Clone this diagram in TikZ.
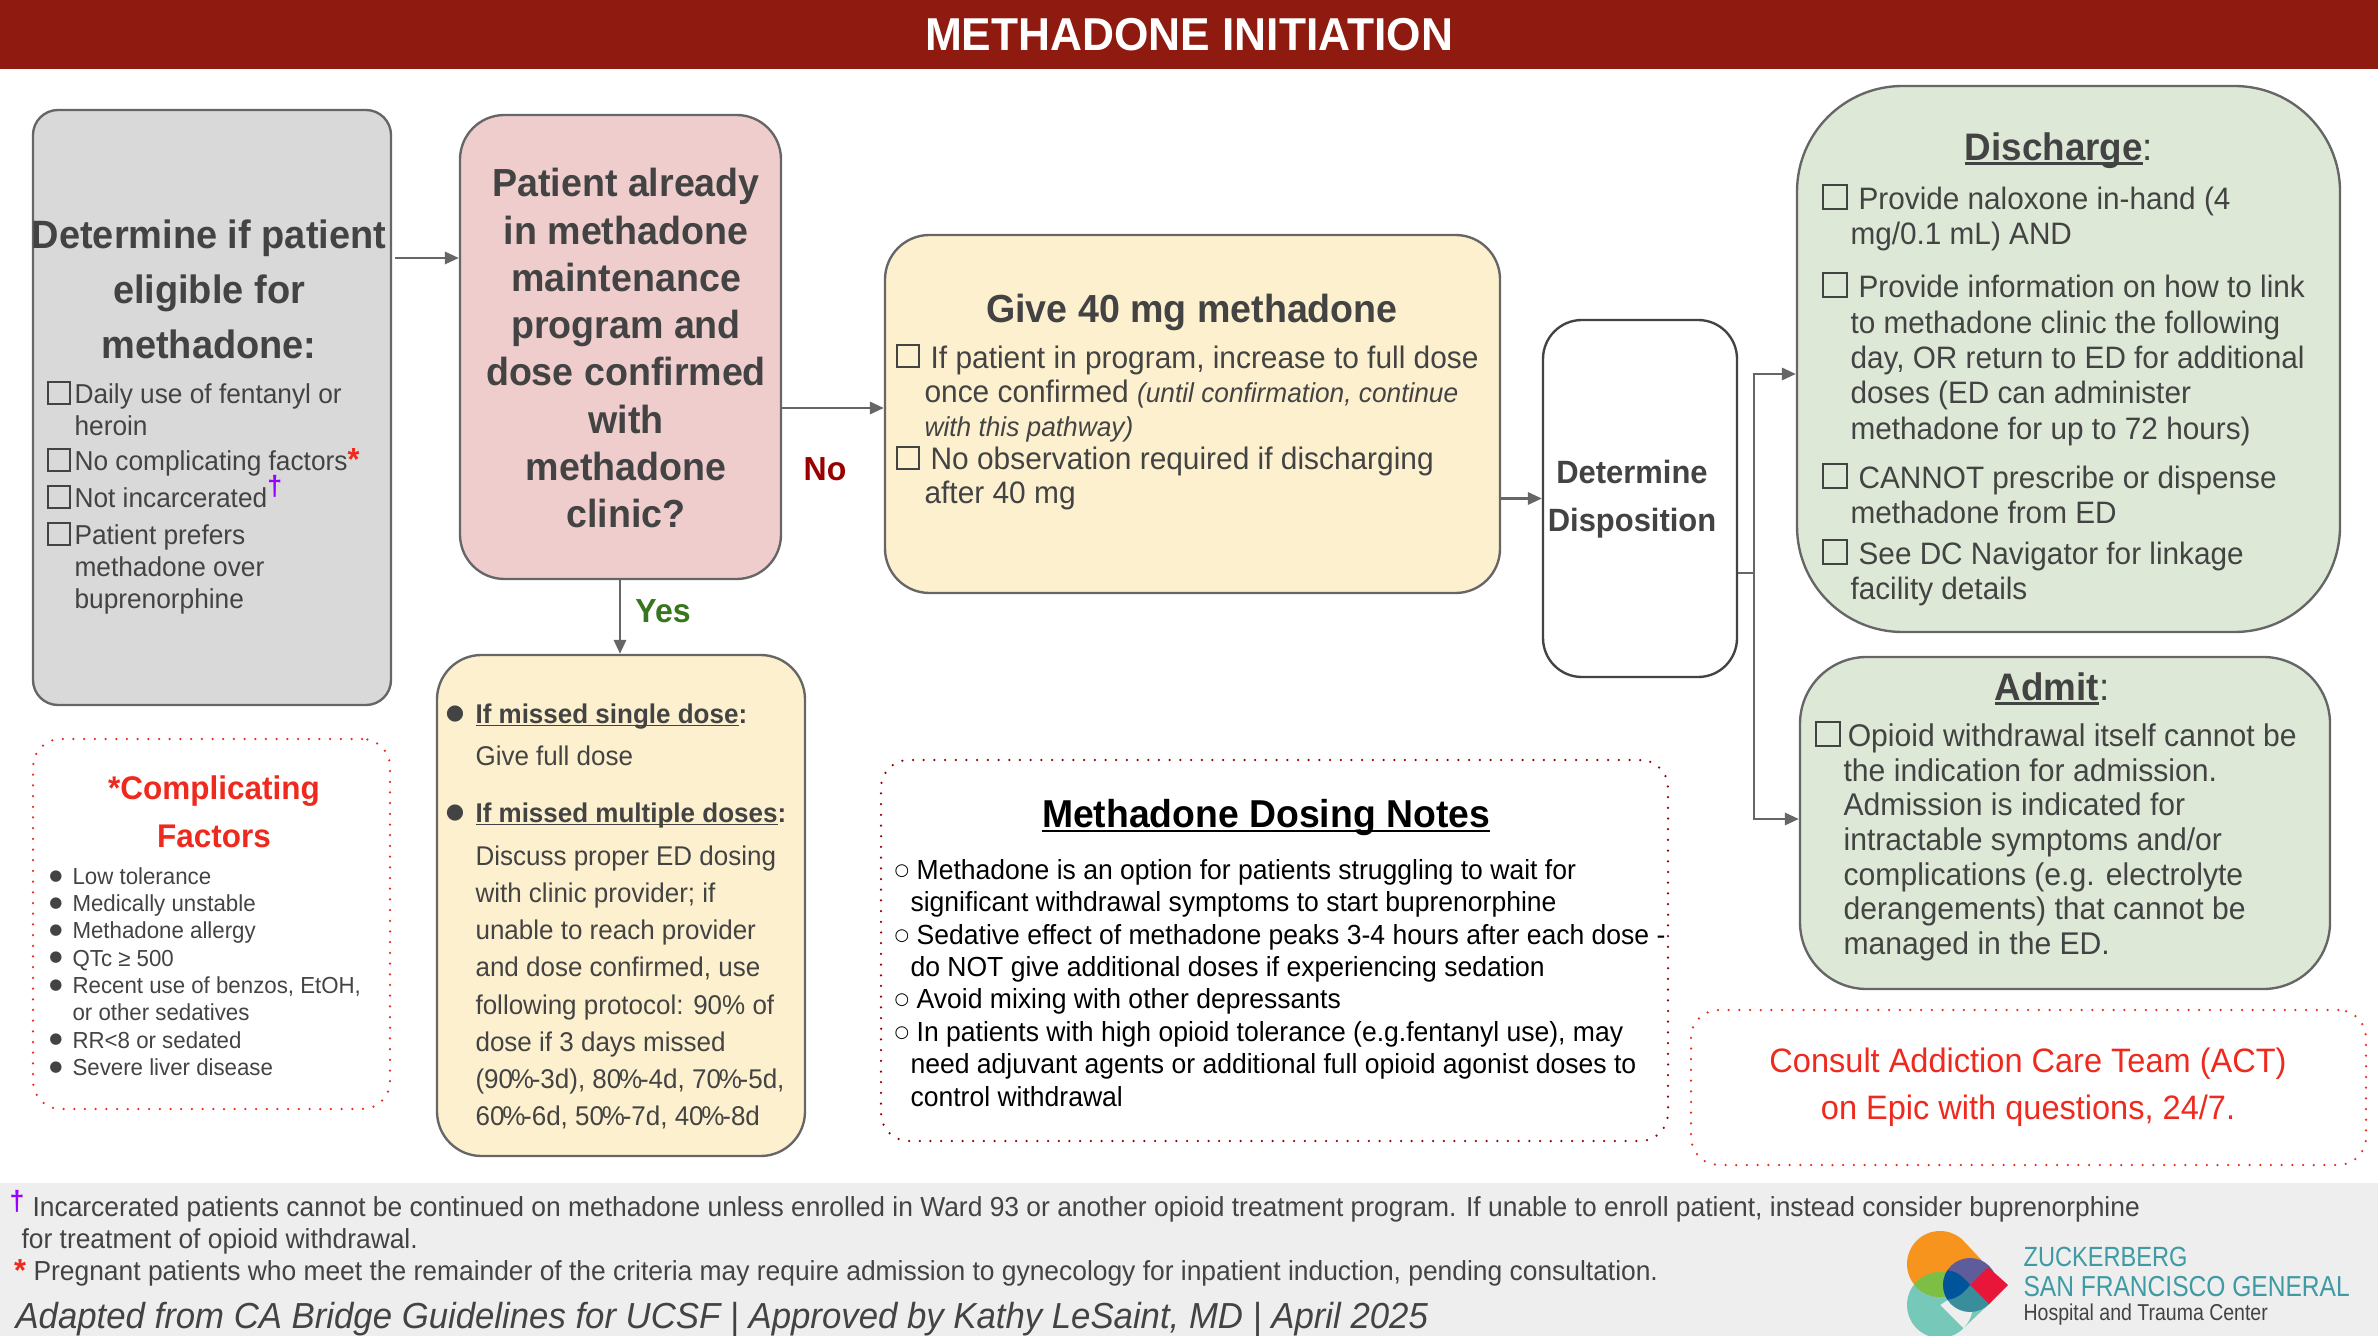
\documentclass[tikz,border=0pt]{standalone}
\usepackage{fontspec}
\setmainfont[FakeStretch=0.96]{Liberation Sans}
\newfontfamily\symfont{DejaVu Sans}
\newfontfamily\logofont[FakeStretch=0.85]{Liberation Sans}
\usetikzlibrary{arrows.meta, positioning}

\definecolor{headred}{HTML}{8E1A10}
\definecolor{txtdark}{HTML}{434343}
\definecolor{edgegray}{HTML}{666666}
\definecolor{boxgray}{HTML}{D9D9D9}
\definecolor{boxpink}{HTML}{EFCDCD}
\definecolor{boxyellow}{HTML}{FCF0CE}
\definecolor{boxgreen}{HTML}{DDE8D6}
\definecolor{footgray}{HTML}{EEEEEE}
\definecolor{noteRed}{HTML}{EE2A1E}
\definecolor{darkRed}{HTML}{990000}
\definecolor{markPurple}{HTML}{9900FF}
\definecolor{yesGreen}{HTML}{38761D}
\definecolor{logoTeal}{HTML}{3E9AA3}
\definecolor{logoOrange}{HTML}{F6941E}
\definecolor{logoMint}{HTML}{76C9B9}
\definecolor{logoGreen}{HTML}{7DBF45}
\definecolor{logoPurple}{HTML}{5F5C9B}
\definecolor{logoDeep}{HTML}{3A8E9C}
\definecolor{logoBlue}{HTML}{00559A}
\definecolor{logoRed}{HTML}{E8173A}

\newsavebox{\ulbox}
\newcommand{\ul}[1]{\sbox{\ulbox}{#1}\usebox{\ulbox}\kern-\wd\ulbox\rule[-.12em]{\wd\ulbox}{.07em}}
\newcommand{\hang}[1]{\hspace*{#1pt}}
\newcommand{\fsize}[2]{\fontsize{#1}{#2}\selectfont}
\newcommand{\stardag}{\textcolor{noteRed}{\bfseries\fsize{11.5}{11.5}*}}
\newcommand{\purdag}{\textcolor{markPurple}{\raisebox{.42em}{\bfseries\fsize{10}{10}†}}}
\newcommand{\pct}{\kern-.8pt\%\kern-.8pt}

\begin{document}
\begin{tikzpicture}[
    x=0.36pt, y=-0.36pt,
    >={Triangle[length=5pt, width=4.4pt]},
    boxsize/.style 2 args={minimum width=#1*0.36pt, minimum height=#2*0.36pt},
    flowbox/.style={draw=edgegray, line width=0.85pt, inner sep=0pt, rounded corners=#1},
    flow/.style={->, draw=edgegray, line width=0.85pt},
    dotbox/.style={draw=#1, line width=0.9pt, dash pattern=on 0pt off 3.85pt, line cap=round, rounded corners=10pt, inner sep=0pt},
    chkbox/.style={draw=txtdark, line width=0.5pt, minimum size=8pt, inner sep=0pt},
    bodytext/.style={anchor=north west, inner sep=0pt, align=left, text=txtdark, font=\fsize{#1}{12.6}},
    boxtitle/.style={anchor=north, inner sep=0pt, align=center, text=txtdark, font=\bfseries\fsize{14.1}{17}},
    dotmark/.style={inner sep=0pt, text=txtdark, font=\symfont\fsize{#1}{#1}}
]
\useasboundingbox (0,0) rectangle (2378,1336);

% Header and footer bands
\node[fill=headred, text=white, inner sep=0pt, boxsize={2378}{69}, font=\bfseries\fsize{16.6}{20}] (header) at (1189,34.5) {METHADONE INITIATION};
\node[fill=footgray, inner sep=0pt, boxsize={2378}{153}] (footer) at (1189,1259.5) {};

% Boxes
\node[flowbox=9pt, fill=boxgray, boxsize={358}{595}] (eligible) at (212,407.5) {};
\node[flowbox=16pt, fill=boxpink, boxsize={321}{464}] (already) at (620.5,347) {};
\node[flowbox=16pt, fill=boxyellow, boxsize={368}{501}] (missed) at (621,905.5) {};
\node[flowbox=16pt, fill=boxyellow, boxsize={615}{358}] (give) at (1192.5,414) {};
\node[flowbox=14pt, fill=white, draw=txtdark, boxsize={194}{357}] (dispo) at (1640,498.5) {};
\node[flowbox=38pt, fill=boxgreen, boxsize={543}{546}] (discharge) at (2068.5,359) {};
\node[flowbox=24pt, fill=boxgreen, boxsize={530}{332}] (admit) at (2065,823) {};
\node[dotbox=noteRed, boxsize={357}{370}] (factors) at (211.5,924) {};
\node[dotbox=darkRed, boxsize={787}{381}] (notes) at (1274.5,950.5) {};
\node[dotbox=noteRed, boxsize={675}{155}] (act) at (2028.5,1087.5) {};

% Connectors
\coordinate (branch) at (1754,573);
\draw[flow] (395,258) -- (already.west |- 0,258);
\draw[flow] (already.east |- 0,408) -- (give.west |- 0,408);
\draw[flow] (already.south -| 620,0) -- (missed.north -| 620,0);
\draw[flow] (give.east |- dispo) -- (dispo.west);
\draw[edgegray, line width=0.85pt] (dispo.east |- branch) -- (branch);
\draw[flow] (branch) |- (discharge.west |- 0,374);
\draw[flow] (branch) |- (admit.west |- 0,819);
\node[text=darkRed, font=\bfseries\fsize{12}{14}, inner sep=0pt] (nolabel) at (825,469) {No};
\node[text=yesGreen, font=\bfseries\fsize{12}{14}, inner sep=0pt] (yeslabel) at (663,611) {Yes};

% Eligibility
\node[boxtitle, font=\bfseries\fsize{14.24}{19.7}] (eligibleT) at (209,219.5) {Determine if patient\\eligible for\\methadone:};
\node[bodytext=9.85, font=\fsize{9.85}{11.5}] (elig1) at (74,383.5) {Daily use of fentanyl or\\heroin};
\node[bodytext=9.85] (elig2) at (74,447.5) {No complicating factors\stardag};
\node[bodytext=9.85] (elig3) at (74,475) {Not incarcerated\purdag};
\node[bodytext=9.85, font=\fsize{9.85}{11.5}] (elig4) at (74,524.5) {Patient prefers\\methadone over\\buprenorphine};
\foreach \i/\cy in {1/393, 2/460, 3/497, 4/534}
    \node[chkbox] (eligC\i) at (59,\cy) {};

% Already in program
\node[boxtitle] (alreadyT) at (626,168) {Patient already\\in methadone\\maintenance\\program and\\dose confirmed\\with\\methadone\\clinic?};

% Missed doses
\node[dotmark=7.6] (missB1) at (455,714) {●};
\node[dotmark=7.6] (missB2) at (455,813) {●};
\node[bodytext=9.75] (miss1) at (475,703) {\bfseries\ul{If missed single dose}:};
\node[bodytext=9.75] (miss2) at (475,745) {Give full dose};
\node[bodytext=9.75] (miss3) at (475,802) {\bfseries\ul{If missed multiple doses}:};
\node[bodytext=9.75, font=\fsize{9.75}{13.4}] (miss4) at (475,845) {Discuss proper ED dosing\\with clinic provider; if\\unable to reach provider\\and dose confirmed, use\\following protocol: 90\% of\\dose if 3 days missed\\(90\pct-3d), 80\pct-4d, 70\pct-5d,\\60\pct-6d, 50\pct-7d, 40\pct-8d};

% Complicating factors
\node[boxtitle, text=noteRed, font=\bfseries\fsize{11.8}{17}] (factorsT) at (214,775.5) {*Complicating\\Factors};
\node[bodytext=8.35, font=\fsize{8.35}{9.83}] (factorsL) at (72,867) {Low tolerance\\Medically unstable\\Methadone allergy\\QTc ≥ 500\\Recent use of benzos, EtOH,\\or other sedatives\\RR<8 or sedated\\Severe liver disease};
\foreach \i/\cy in {1/877, 2/904, 3/931, 4/958, 5/986, 6/1040, 7/1068}
    \node[dotmark=5.4] (factorsB\i) at (56,\cy) {●};

% Give methadone
\node[boxtitle] (giveT) at (1192,294) {Give 40 mg methadone};
\node[bodytext=11.2, font=\fsize{11.2}{12.3}] (give1) at (924,345) {\hang{2.2}If patient in program, increase to full dose\\once confirmed {\itshape\fsize{9.85}{12.3}(until confirmation, continue}\\{\itshape\fsize{9.85}{12.3}with this pathway)}};
\node[bodytext=11.2, font=\fsize{11.2}{12.3}] (give2) at (924,446) {\hang{2.2}No observation required if discharging\\after 40 mg};
\node[chkbox] (giveC1) at (908,356) {};
\node[chkbox] (giveC2) at (908,458) {};

% Disposition
\node[boxtitle, font=\bfseries\fsize{11.6}{17}] (dispoT) at (1632,460) {Determine\\Disposition};

% Discharge
\node[boxtitle, font=\fsize{13.8}{17}] (dischargeT) at (2059,132) {{\bfseries\ul{Discharge}}:};
\node[bodytext=11.15] (disc1) at (1850,187) {\hang{2.9}Provide naloxone in-hand (4\\mg/0.1 mL) AND};
\node[bodytext=11.15, font=\fsize{11.15}{12.7}] (disc2) at (1850,275) {\hang{2.9}Provide information on how to link\\to methadone clinic the following\\day, OR return to ED for additional\\doses (ED can administer\\methadone for up to 72 hours)};
\node[bodytext=11.15] (disc3) at (1850,465.5) {\hang{2.9}CANNOT prescribe or dispense\\methadone from ED};
\node[bodytext=11.15] (disc4) at (1850,541.5) {\hang{2.9}See DC Navigator for linkage\\facility details};
\foreach \i/\cy in {1/197, 2/285, 3/476, 4/552}
    \node[chkbox, minimum size=8.6pt] (discC\i) at (1835,\cy) {};

% Admit
\node[boxtitle, font=\fsize{13.8}{17}] (admitT) at (2052,672) {{\bfseries\ul{Admit}}:};
\node[bodytext=11.3, font=\fsize{11.3}{12.45}] (admit1) at (1843,723.5) {\hang{1.5}Opioid withdrawal itself cannot be\\the indication for admission.\\Admission is indicated for\\intractable symptoms and/or\\complications (e.g. electrolyte\\derangements) that cannot be\\managed in the ED.};
\node[chkbox, minimum size=8.6pt] (admitC) at (1828,734) {};

% Dosing notes
\node[boxtitle, text=black, font=\bfseries\fsize{14}{17}] (notesT) at (1266,799) {\ul{Methadone Dosing Notes}};
\node[bodytext=9.95, text=black, font=\fsize{9.95}{11.66}] (note1) at (910,859) {\hang{2.2}Methadone is an option for patients struggling to wait for\\significant withdrawal symptoms to start buprenorphine};
\node[bodytext=9.95, text=black, font=\fsize{9.95}{11.66}] (note2) at (910,924) {\hang{2.2}Sedative effect of methadone peaks 3-4 hours after each dose -\\do NOT give additional doses if experiencing sedation};
\node[bodytext=9.95, text=black, font=\fsize{9.95}{11.66}] (note3) at (910,988) {\hang{2.2}Avoid mixing with other depressants};
\node[bodytext=9.95, text=black, font=\fsize{9.95}{11.66}] (note4) at (910,1021) {\hang{2.2}In patients with high opioid tolerance (e.g.fentanyl use), may\\need adjuvant agents or additional full opioid agonist doses to\\control withdrawal};
\foreach \i/\cy in {1/871, 2/936, 3/1000, 4/1033}
    \node[dotmark=6, text=black] (noteB\i) at (902,\cy) {○};

% Addiction care team
\node[boxtitle, text=noteRed, font=\fsize{12.2}{17}] (actT) at (2028,1047) {Consult Addiction Care Team (ACT)\\on Epic with questions, 24/7.};

% Footnotes
\node[inner sep=0pt, text=markPurple, font=\bfseries\fsize{10}{10}] (footD) at (17,1201) {†};
\node[bodytext=9.9] (foot1) at (32,1196) {Incarcerated patients cannot be continued on methadone unless enrolled in Ward 93 or another opioid treatment program. If unable to enroll patient, instead consider buprenorphine};
\node[bodytext=9.9] (foot2) at (21,1228) {for treatment of opioid withdrawal.};
\node[inner sep=0pt, text=noteRed, font=\bfseries\fsize{11.5}{11.5}] (footS) at (20,1271) {*};
\node[bodytext=9.9] (foot3) at (33,1260) {Pregnant patients who meet the remainder of the criteria may require admission to gynecology for inpatient induction, pending consultation.};
\node[bodytext=13.03, font=\itshape\fsize{13.03}{15}] (foot4) at (15,1302) {Adapted from CA Bridge Guidelines for UCSF | Approved by Kathy LeSaint, MD |  April 2025};

% Logo
\fill[logoMint] (1940,1305) circle[radius=33] (1963.3,1328.3) -- (1989,1304) -- (1970,1285) -- (1940,1305) -- cycle;
\fill[logoOrange] (1940,1264) circle[radius=33] (1963.3,1240.7) -- (1988,1267) -- (1970,1285) -- (1940,1264) -- cycle;
\begin{scope}
    \clip (1940,1264) circle[radius=33];
    \fill[logoGreen] (1940,1305) circle[radius=33];
\end{scope}
\begin{scope}
    \clip (1970,1285) circle[radius=27];
    \fill[logoPurple] (1930,1250) rectangle (2010,1285);
    \fill[logoDeep] (1930,1285) rectangle (2010,1320);
    \fill[logoBlue] (1970,1285) .. controls (1960,1272) and (1952,1270) .. (1942,1270) -- (1942,1300) .. controls (1952,1300) and (1960,1298) .. (1970,1285);
\end{scope}
\fill[logoRed] (1988,1267) -- (2008,1285) -- (1989,1304) -- (1970,1285) -- cycle;
\node[anchor=west, inner sep=0pt, text=logoTeal, font=\logofont\fsize{10}{10}] (logo1) at (2023,1257) {ZUCKERBERG};
\node[anchor=west, inner sep=0pt, text=logoTeal, font=\logofont\fsize{10.4}{10}] (logo2) at (2023,1287) {SAN FRANCISCO GENERAL};
\node[anchor=west, inner sep=0pt, text=txtdark, font=\logofont\fsize{8.26}{8}] (logo3) at (2023,1315) {Hospital and Trauma Center};

\end{tikzpicture}
\end{document}
